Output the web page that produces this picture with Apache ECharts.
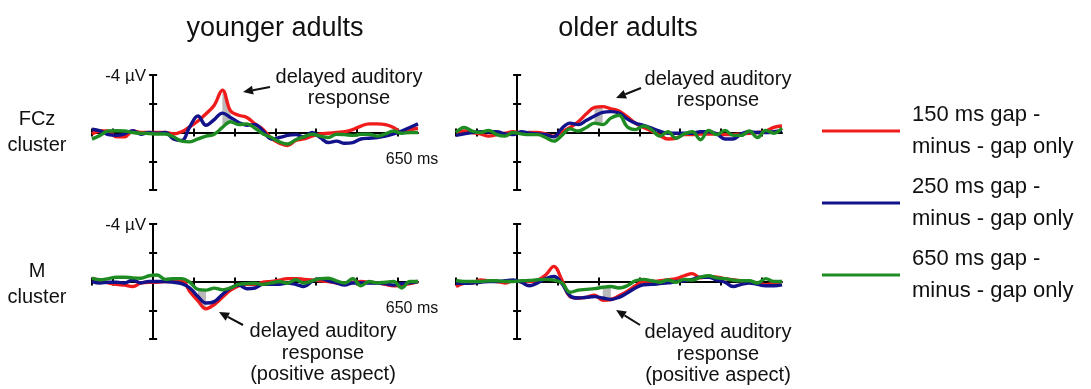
<!DOCTYPE html>
<html>
<head>
<meta charset="utf-8">
<script src="https://cdn.jsdelivr.net/npm/echarts@6/dist/echarts.min.js"></script>
<style>
  html, body { margin: 0; padding: 0; background: #fff; }
  #chart { width: 1091px; height: 389px; }
</style>
</head>
<body>
<div id="chart"></div>
<script>
// Time points (ms relative to gap onset), sampled every 20 ms
const times = [-150,-130,-110,-90,-70,-50,-30,-10,10,30,50,70,90,110,130,150,170,190,210,230,250,270,290,310,330,350,370,390,410,430,450,470,490,510,530,550,570,590,610,630,650];

// Difference waves in µV (negative plotted upward)
// FCz cluster, younger adults
const fczYoung150 = [0.1,-0.1,-0.1,0.3,0.3,-0.1,0,0,0,0, 0.1,-0.05,-0.4,-0.8,-1.3,-1.9,-2.95,-1.5,-1.2,-1.05, -0.6,-0.2,0.4,0.75,0.9,0.55,0.45,0.25,0.1,0.05, 0,-0.05,-0.2,-0.45,-0.6,-0.6,-0.55,-0.35,0,-0.2,-0.3];
const fczYoung250 = [-0.23,-0.12,0.15,0.2,0.1,-0.12,0.12,0,0.05,0, 0.45,0.55,-0.4,-1.15,-0.5,-0.9,-1.35,-1.05,-0.7,-0.5, -0.55,-0.1,0.45,0.35,0.2,0.15,0.3,0,0.35,0.7, 0.6,0.75,0.7,0.45,0.4,0.35,0.25,0.1,-0.1,-0.35,-0.6];
const fczYoung650 = [0.46,0.2,-0.1,-0.12,-0.1,0,0.05,0.07,0.1,0.1, 0.3,0.6,0.65,0.45,0.25,0.12,-0.35,-0.75,-0.55,-0.6, -0.3,0.1,0.35,0.65,0.8,0.5,0.3,0.12,0.25,0.35, 0.12,0.15,0.2,0.12,0.12,0.25,0.1,-0.1,0.05,0,0];
// FCz cluster, older adults
const fczOld150 = [0,-0.1,0,0.1,0.25,0.15,0.05,-0.05,0.05,0, 0,0.1,0.25,-0.05,-0.35,-0.75,-1.3,-1.75,-1.8,-1.65, -1.5,-1.1,-0.65,-0.35,-0.1,0.2,0.45,0.4,0.15,0.15, 0.1,0.1,0.1,0.15,0.15,0.1,0.05,0,-0.1,-0.35,-0.45];
const fczOld250 = [0.2,0.1,0,-0.05,-0.05,-0.05,0.1,0.15,-0.05,0.05, 0.1,0.15,0.3,-0.3,-0.65,-0.55,-0.85,-1.15,-1.4,-1.45, -1.35,-0.95,-0.65,-0.5,-0.3,-0.1,0.05,0.05,0.05,0.05, -0.05,-0.05,0.1,0.45,0.45,0.1,-0.05,0,0,-0.05,-0.15];
const fczOld650 = [0,-0.35,-0.1,0,-0.15,0.15,0.25,0,0.1,0.15, 0.15,0.35,0.6,0.2,-0.25,-0.1,-0.35,-0.65,-0.55,-1.0, -1.2,-0.4,-0.2,-0.45,-0.2,0.25,-0.05,0.4,0.1,-0.05, 0.5,-0.15,0.15,-0.15,0.2,0.2,-0.1,0.35,-0.15,0.05,-0.3];
// M cluster, younger adults
const mYoung150 = [-0.2,-0.1,0.1,0.2,0.25,0.35,0.1,0.05,0.05,0, 0,-0.1,0.7,1.35,1.9,1.6,1.1,0.6,0.3,0.2, 0.2,0.05,0,-0.1,-0.2,-0.2,-0.15,-0.1,-0.05,0, 0.1,0.1,0.05,0,0.05,0.1,0.2,0.3,0.25,0.15,0];
const mYoung250 = [0,0.1,0.05,0.05,0.1,-0.1,0.1,0,0,0, 0.05,0.15,0.45,1.05,1.5,1.4,0.9,0.45,0.25,0.5, 0.45,0.2,0.2,0.2,0.1,0.2,0.35,0,-0.2,-0.05, 0.1,0.25,0.1,0.1,0.1,0.1,0.15,0.25,0.15,0.1,0];
const mYoung650 = [-0.23,-0.12,-0.2,-0.3,-0.3,-0.25,-0.23,-0.4,-0.45,-0.15, -0.2,-0.2,0.05,0.55,0.6,0.46,0.58,0.45,0.2,0.15, 0.12,0.2,0.1,0,0.12,-0.12,0.1,-0.05,-0.2,-0.23, -0.05,0.1,-0.2,0.3,0,0.1,0.05,0,0.45,0,0];
// M cluster, older adults
const mOld150 = [0.35,0.12,0.1,-0.1,-0.05,0,0.1,-0.05,0,0, -0.1,-0.45,-1.05,-0.1,1.05,1.15,1.1,0.95,1.3,1.25, 1.0,0.7,0.3,0,0,-0.05,-0.12,-0.2,-0.4,-0.55, -0.25,-0.35,-0.3,-0.2,-0.12,-0.05,0,0.12,0.23,0.12,0];
const mOld250 = [0.12,0.12,0.1,0.05,0,0,-0.05,-0.1,0.05,0.3, 0.1,-0.2,-0.35,0.15,1.0,1.15,1.1,1.05,1.15,1.25, 1.1,0.8,0.45,0.23,0.2,0.15,0.1,0,-0.05,-0.15, -0.3,-0.3,-0.1,0.05,0.35,0.2,0.1,0.2,0.3,0.3,0.23];
const mOld650 = [-0.07,0,0,0,-0.05,-0.05,0,0,-0.05,-0.07, -0.12,-0.15,-0.1,0.1,0.75,0.6,0.55,0.5,0.4,0.35, 0.45,0.3,-0.05,-0.15,-0.05,0.05,-0.1,0.05,-0.15,-0.1, -0.3,-0.4,-0.25,-0.2,-0.1,-0.05,-0.05,0.1,-0.2,0,0];

// Highlighted analysis windows (ms)
const windowFczYoung = [170, 190];
const windowFczOld = [190, 210];
const windowMYoung = [110, 130];
const windowMOld = [210, 230];

// Axis ticks and scale labels
const xTicks = [-150, -100, 0, 100, 200, 300, 400, 500, 600];
const yTicks = [-4, -2, 0, 2, 4];
const xEndValue = 650;
const yTopValue = -4;

const conditionNames = ['150 ms gap -\nminus - gap only', '250 ms gap -\nminus - gap only', '650 ms gap -\nminus - gap only'];
const conditionColors = ['#f01c1c', '#12128a', '#1e8c22'];
const groupTitles = ['younger adults', 'older adults'];
const clusterNames = ['FCz\ncluster', 'M\ncluster'];

const FONT = '"Liberation Sans", Arial, sans-serif';

const panels = [
  { rect: [92, 75], waves: [fczYoung150, fczYoung250, fczYoung650], win: windowFczYoung, labels: true },
  { rect: [456, 75], waves: [fczOld150, fczOld250, fczOld650], win: windowFczOld, labels: false },
  { rect: [92, 224], waves: [mYoung150, mYoung250, mYoung650], win: windowMYoung, labels: true },
  { rect: [456, 224], waves: [mOld150, mOld250, mOld650], win: windowMOld, labels: false }
];

const grid = [], xAxis = [], yAxis = [], series = [];
const axisColor = '#000';
const tickStyle = { color: axisColor, width: 2 };

panels.forEach((p, i) => {
  grid.push({ left: p.rect[0], top: p.rect[1], width: 326, height: 115, outerBoundsMode: 'none' });
  const xi = xAxis.length, yi = yAxis.length;
  p.xi = xi; p.yi = yi;
  // time axis drawn through zero amplitude, ticks downward
  xAxis.push({
    gridIndex: i, type: 'value', min: -150, max: 650, position: 'bottom',
    axisLine: { onZero: true, onZeroAxisIndex: yi, lineStyle: { color: axisColor, width: 2 } },
    axisTick: { show: true, length: 4, customValues: xTicks, lineStyle: tickStyle },
    axisLabel: { show: false }, splitLine: { show: false }
  });
  // companion axis carrying the upward half of each tick
  xAxis.push({
    gridIndex: i, type: 'value', min: -150, max: 650, position: 'top',
    axisLine: { show: false, onZero: true, onZeroAxisIndex: yi },
    axisTick: { show: true, length: 4, customValues: xTicks, lineStyle: tickStyle },
    axisLabel: { show: false }, splitLine: { show: false }
  });
  // amplitude axis, negative up, drawn at time zero
  yAxis.push({
    gridIndex: i, type: 'value', min: -4, max: 4, inverse: true, position: 'left',
    axisLine: { onZero: true, onZeroAxisIndex: xi, lineStyle: { color: axisColor, width: 2 } },
    axisTick: { show: true, length: 4, customValues: yTicks, lineStyle: tickStyle },
    axisLabel: { show: false }, splitLine: { show: false }
  });
  yAxis.push({
    gridIndex: i, type: 'value', min: -4, max: 4, inverse: true, position: 'right',
    axisLine: { show: false, onZero: true, onZeroAxisIndex: xi },
    axisTick: { show: true, length: 4, customValues: yTicks, lineStyle: tickStyle },
    axisLabel: { show: false }, splitLine: { show: false }
  });

  // grey window between the 150 ms and 650 ms waves
  const idx = times.map((t, k) => k).filter(k => times[k] >= p.win[0] && times[k] <= p.win[1]);
  const upper = p.waves[0], lower = p.waves[2];
  series.push({
    type: 'custom', xAxisIndex: xi, yAxisIndex: yi, z: 1, silent: true,
    data: [p.win],
    renderItem: (params, api) => {
      const pts = idx.map(k => api.coord([times[k], upper[k]]))
        .concat(idx.slice().reverse().map(k => api.coord([times[k], lower[k]])));
      return { type: 'polygon', shape: { points: pts }, style: { fill: '#b9b9b9' } };
    }
  });

  p.waves.forEach((w, c) => {
    series.push({
      type: 'line', name: conditionNames[c], xAxisIndex: xi, yAxisIndex: yi,
      data: times.map((t, k) => [t, w[k]]),
      smooth: 0.4, showSymbol: false, z: 2 + c, silent: true,
      lineStyle: { color: conditionColors[c], width: 3.4 },
      itemStyle: { color: conditionColors[c] }
    });
  });
});

function arrow(x1, y1, x2, y2) {
  // shaft from (x1,y1) to the head at (x2,y2)
  const ang = Math.atan2(y2 - y1, x2 - x1), L = 10, W = 4.5;
  const bx = x2 - L * Math.cos(ang), by = y2 - L * Math.sin(ang);
  const nx = -Math.sin(ang), ny = Math.cos(ang);
  return [
    { type: 'line', shape: { x1, y1, x2: bx, y2: by }, style: { stroke: '#111', lineWidth: 2 } },
    { type: 'polygon', shape: { points: [[x2, y2], [bx + nx * W, by + ny * W], [bx - nx * W, by - ny * W]] },
      style: { fill: '#111' } }
  ];
}

function text(str, x, y, size, lh, align, vAlign) {
  return { type: 'text', x, y, style: { text: str, font: size + 'px ' + FONT, fill: '#111',
    textAlign: align || 'center', textVerticalAlign: vAlign || 'top', lineHeight: lh || size * 1.15 } };
}

const graphic = [
  text(groupTitles[0], 275, 13, 27),
  text(groupTitles[1], 628, 13, 27),
  text(clusterNames[0], 37, 106, 20, 26),
  text(clusterNames[1], 37, 258, 20, 26),
  text('delayed auditory\nresponse', 349, 67, 20, 21),
  text('delayed auditory\nresponse', 718, 69, 20, 21),
  text('delayed auditory\nresponse\n(positive aspect)', 323, 321, 20, 21.5),
  text('delayed auditory\nresponse\n(positive aspect)', 718, 322, 20, 21.5),
  ...arrow(270, 87, 243, 92),
  ...arrow(641, 88, 616, 98),
  ...arrow(243, 325, 219, 312),
  ...arrow(640, 325, 616, 310)
];

const chart = echarts.init(document.getElementById('chart'), null, { renderer: 'canvas' });
chart.setOption({
  animation: false,
  backgroundColor: '#fff',
  textStyle: { fontFamily: FONT },
  grid, xAxis, yAxis, series, graphic,
  legend: {
    data: conditionNames, orient: 'vertical', left: 822, top: 99, padding: 0,
    itemWidth: 78, itemHeight: 3, itemGap: 8, icon: 'rect', selectedMode: false,
    textStyle: { fontSize: 22, lineHeight: 32, color: '#111', fontFamily: FONT, padding: [0, 0, 0, 7] }
  }
});

// Scale labels placed at the top of the amplitude axis and the end of the time axis
const scaleLabels = [];
panels.filter(p => p.labels).forEach(p => {
  const finder = { xAxisIndex: p.xi, yAxisIndex: p.yi };
  const top = chart.convertToPixel(finder, [0, yTopValue]);
  const end = chart.convertToPixel(finder, [xEndValue, 0]);
  scaleLabels.push(text(yTopValue + ' µV', top[0] - 7, top[1] + 1, 17, 19, 'right', 'middle'));
  scaleLabels.push(text(xEndValue + ' ms', end[0] - 6, end[1] + 18, 16, 18, 'center', 'top'));
});
chart.setOption({ graphic: graphic.concat(scaleLabels) }, { replaceMerge: ['graphic'] });
</script>
</body>
</html>
